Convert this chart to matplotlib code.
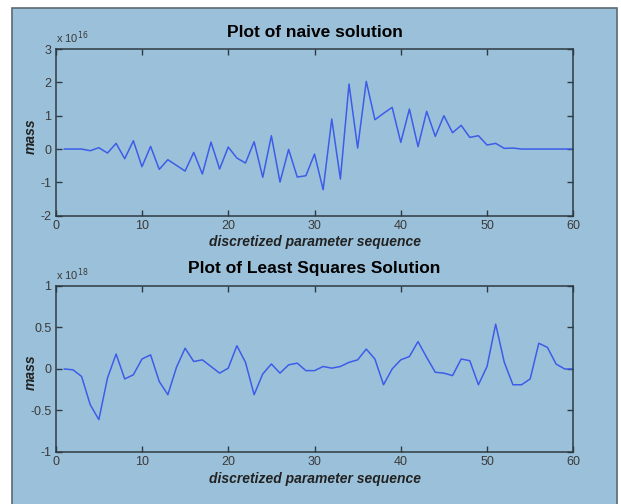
import matplotlib
matplotlib.use('Agg')
import matplotlib.pyplot as plt
from matplotlib.patches import Rectangle

# sequence index 1..60
idx = list(range(1, 61))

# naive solution, in units of 1e16
naive = [0, 0, 0, -0.05, 0.04, -0.12, 0.17, -0.29, 0.25, -0.53,
         0.08, -0.61, -0.32, -0.49, -0.66, -0.1, -0.75, 0.21, -0.6, 0.06,
         -0.27, -0.42, 0.22, -0.85, 0.4, -0.99, -0.01, -0.84, -0.8, -0.15,
         -1.22, 0.9, -0.9, 1.95, 0.03, 2.03, 0.88, 1.07, 1.25, 0.2,
         1.2, 0.07, 1.13, 0.38, 1.0, 0.49, 0.71, 0.35, 0.4, 0.12,
         0.17, 0.02, 0.03, 0, 0, 0, 0, 0, 0, 0]

# least squares solution, in units of 1e18
lsq = [0, -0.01, -0.09, -0.43, -0.61, -0.11, 0.18, -0.12, -0.07, 0.12,
       0.17, -0.15, -0.31, 0.02, 0.25, 0.09, 0.11, 0.03, -0.05, 0.01,
       0.28, 0.08, -0.31, -0.06, 0.06, -0.05, 0.05, 0.07, -0.02, -0.02,
       0.03, 0.01, 0.03, 0.08, 0.11, 0.24, 0.12, -0.19, 0, 0.11,
       0.15, 0.33, 0.14, -0.04, -0.05, -0.08, 0.12, 0.1, -0.19, 0.03,
       0.54, 0.08, -0.19, -0.19, -0.12, 0.31, 0.26, 0.06, 0, 0]

bg = '#9bc1da'
line_col = '#3d5ce8'
dark = '#2e3a42'
txt = '#3a3a3a'

plt.rcParams['font.family'] = 'Liberation Sans'

fig = plt.figure(figsize=(6.21, 5.04), dpi=100)
fig.patch.set_facecolor('white')
panel = Rectangle((12 / 621, -0.01), 605 / 621, 1 - 8 / 504 + 0.01,
                  transform=fig.transFigure, facecolor=bg,
                  edgecolor='#5a6a74', linewidth=1.2, zorder=-10)
fig.add_artist(panel)


def style_ax(ax, yticks, ylabels, exp_txt, title):
    ax.set_facecolor(bg)
    ax.set_xlim(0, 60)
    ax.set_xticks(range(0, 61, 10))
    ax.set_yticks(yticks)
    ax.set_yticklabels(ylabels)
    ax.set_ylim(yticks[0], yticks[-1])
    ax.tick_params(direction='in', top=True, right=True, length=4,
                   width=1, color=dark, labelsize=9, labelcolor=txt, pad=3)
    for s in ax.spines.values():
        s.set_color(dark)
        s.set_linewidth(1.1)
    ax.set_xlabel('discretized parameter sequence', fontsize=10,
                  fontweight='bold', style='italic', labelpad=2.5, color='#222222')
    ax.set_ylabel('mass', fontsize=10, fontweight='bold', style='italic',
                  color='#222222')
    ax.yaxis.set_label_coords(-0.034, 0.48)
    ax.set_title(title, fontsize=12.5, fontweight='bold', pad=9)
    ax.text(0.0, 1.02, exp_txt, transform=ax.transAxes, fontsize=8,
            color=txt, ha='left', va='bottom')


ax1 = fig.add_axes([0.0897, 0.572, 0.8335, 0.3307])
ax1.plot(idx, naive, color=line_col, linewidth=1.1)
style_ax(ax1, [-2, -1, 0, 1, 2, 3], ['-2', '-1', '0', '1', '2', '3'],
         r'x 10$^{16}$', 'Plot of naive solution')

ax2 = fig.add_axes([0.0897, 0.1032, 0.8335, 0.3294])
ax2.plot(idx, lsq, color=line_col, linewidth=1.1)
style_ax(ax2, [-1, -0.5, 0, 0.5, 1], ['-1', '-0.5', '0', '0.5', '1'],
         r'x 10$^{18}$', 'Plot of Least Squares Solution')

fig.savefig('out.png', dpi=100, facecolor=fig.get_facecolor())
